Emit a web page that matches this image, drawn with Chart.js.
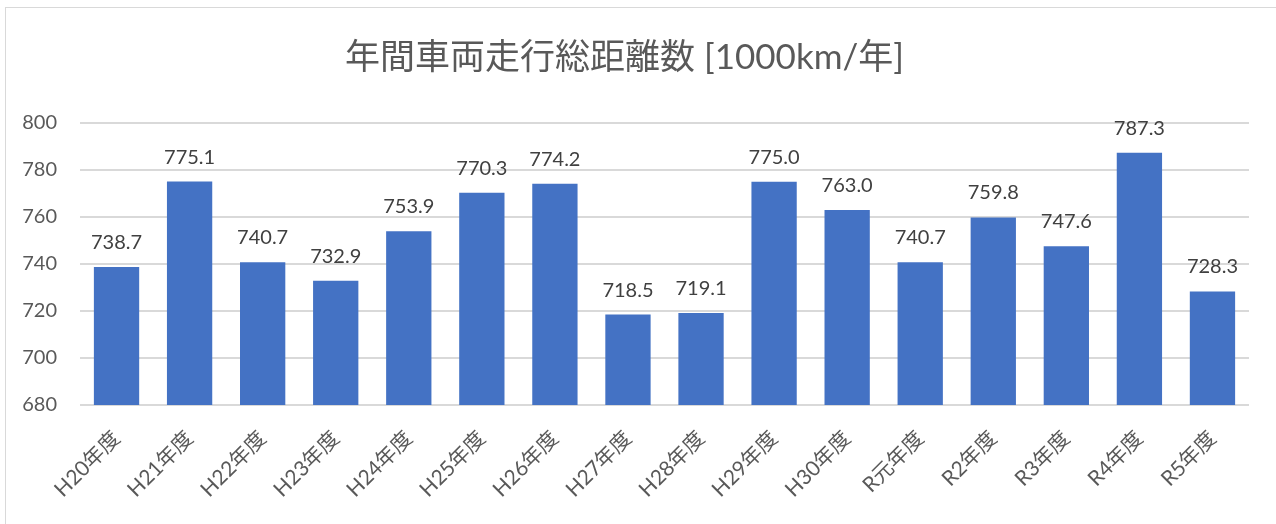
<!DOCTYPE html>
<html><head><meta charset="utf-8">
<script src="https://cdn.jsdelivr.net/npm/chart.js@4/dist/chart.umd.min.js"></script>
<style>
html,body{margin:0;padding:0;background:#fff;overflow:hidden;}
#c{position:absolute;left:0;top:0;display:block;}
#frame{position:absolute;left:5px;top:7px;width:1400px;height:700px;border:1px solid #D9D9D9;pointer-events:none;}
</style></head><body>
<canvas id="c" width="1276" height="524"></canvas>
<div id="frame"></div>
<script>
const categories = ["H20年度","H21年度","H22年度","H23年度","H24年度","H25年度","H26年度","H27年度","H28年度","H29年度","H30年度","R元年度","R2年度","R3年度","R4年度","R5年度"];
const values = [738.7,775.1,740.7,732.9,753.9,770.3,774.2,718.5,719.1,775.0,763.0,740.7,759.8,747.6,787.3,728.3];
const yTicks = [680,700,720,740,760,780,800];
const titleText = "年間車両走行総距離数 [1000km/年]";

const FONT = "Lato, 'Noto Sans CJK JP', sans-serif";

const labelPlugin = {
  id:'barLabels',
  afterDatasetsDraw(chart){
    const ctx = chart.ctx;
    const meta = chart.getDatasetMeta(0);
    ctx.save();
    ctx.font = "20px " + FONT;
    ctx.fillStyle = "#404040";
    ctx.textAlign = "center";
    ctx.textBaseline = "alphabetic";
    meta.data.forEach((bar,i)=>{
      ctx.fillText(values[i].toFixed(1), bar.x, bar.y - 18);
    });
    ctx.restore();
  }
};

new Chart(document.getElementById('c'),{
  type:'bar',
  data:{labels:categories,datasets:[{data:values,backgroundColor:'#4472C4',borderWidth:0,categoryPercentage:0.62,barPercentage:1}]},
  options:{
    responsive:false,animation:false,
    layout:{padding:{left:0,right:27,top:0,bottom:0}},
    plugins:{
      legend:{display:false},tooltip:{enabled:false},
      title:{display:true,text:titleText,color:'#595959',font:{family:FONT,size:35,weight:'normal',lineHeight:1.2},padding:{top:37,bottom:44}}
    },
    scales:{
      x:{grid:{display:false},border:{display:false},
         afterFit(axis){axis.height = 119;},
         ticks:{color:'#595959',font:{family:FONT,size:21},minRotation:45,maxRotation:45,padding:13,autoSkip:false}},
      y:{min:680,max:800,
         afterFit(axis){axis.width = 80;},
         afterBuildTicks(axis){axis.ticks = yTicks.map(v=>({value:v}));},
         grid:{color:'#D9D9D9',lineWidth:2,drawTicks:false},border:{display:false},
         ticks:{color:'#595959',font:{family:FONT,size:20},padding:23}}
    }
  },
  plugins:[labelPlugin]
});
</script></body></html>
